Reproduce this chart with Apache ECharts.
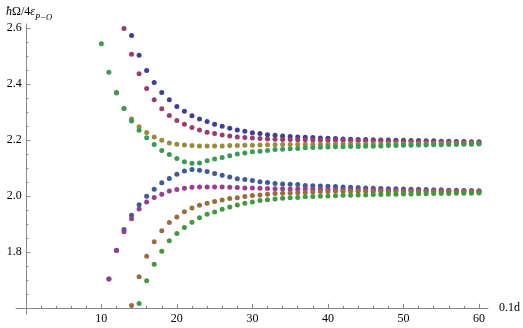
<!DOCTYPE html>
<html>
<head>
<meta charset="utf-8">
<script src="https://cdn.jsdelivr.net/npm/echarts@6/dist/echarts.min.js"></script>
<style>
  html, body { margin: 0; padding: 0; background: #fff; }
  #main { width: 523px; height: 328px; }
</style>
</head>
<body>
<div id="main"></div>
<script>
// x runs over integer steps of 0.1d, each branch starts where it enters the plot
const blueUpStart = 14;
const blueUp = [2.574, 2.504, 2.449, 2.406, 2.371, 2.345, 2.321, 2.304, 2.288, 2.276,
  2.267, 2.257, 2.250, 2.243, 2.237, 2.232, 2.227, 2.224, 2.220, 2.218,
  2.215, 2.214, 2.212, 2.211, 2.210, 2.208, 2.207, 2.206,
  2.205, 2.204, 2.203, 2.203, 2.202, 2.201, 2.201, 2.200, 2.200, 2.199,
  2.199, 2.198, 2.198, 2.197, 2.197, 2.196, 2.196, 2.195, 2.195];

const magentaUpStart = 13;
const magentaUp = [2.599, 2.507, 2.438, 2.385, 2.345, 2.313, 2.289, 2.271, 2.257, 2.246,
  2.237, 2.229, 2.224, 2.219, 2.215, 2.212, 2.210, 2.208, 2.206, 2.205,
  2.204, 2.203, 2.203, 2.202, 2.202, 2.201, 2.201, 2.200, 2.200,
  2.200, 2.200, 2.199, 2.199, 2.198, 2.198, 2.197, 2.197, 2.196, 2.196,
  2.195, 2.195, 2.194, 2.194, 2.194, 2.193, 2.193, 2.192, 2.192];

const oliveUpStart = 12;
const oliveUp = [2.372, 2.314, 2.276, 2.248, 2.228, 2.212, 2.200, 2.190, 2.186, 2.183,
  2.181, 2.180, 2.180, 2.180, 2.180, 2.181, 2.181, 2.182, 2.182, 2.183,
  2.184, 2.184, 2.185, 2.185, 2.185, 2.186, 2.186, 2.186, 2.186, 2.187,
  2.187, 2.187, 2.187, 2.187, 2.187, 2.187, 2.188, 2.188, 2.188, 2.188,
  2.188, 2.188, 2.188, 2.189, 2.189, 2.189, 2.189, 2.189, 2.189];

const greenUpStart = 10;
const greenUp = [2.545, 2.443, 2.369, 2.314, 2.269, 2.236, 2.209, 2.185, 2.164, 2.149,
  2.135, 2.123, 2.118, 2.119, 2.127, 2.133, 2.139, 2.145, 2.151, 2.155,
  2.159, 2.161, 2.164, 2.167, 2.168, 2.170, 2.171, 2.173, 2.174, 2.175, 2.176, 2.177,
  2.177, 2.178, 2.178, 2.179, 2.179, 2.180, 2.181, 2.181, 2.182, 2.182,
  2.183, 2.183, 2.184, 2.184, 2.185, 2.185, 2.186, 2.186, 2.187];

const blueLowStart = 11;
const blueLow = [1.705, 1.807, 1.881, 1.932, 1.970, 2.000, 2.025, 2.048, 2.064, 2.079,
  2.090, 2.096, 2.093, 2.089, 2.081, 2.075, 2.069, 2.063, 2.060, 2.056,
  2.052, 2.049, 2.046, 2.044, 2.043, 2.042, 2.039, 2.038, 2.037, 2.036, 2.035,
  2.033, 2.032, 2.031, 2.030, 2.029, 2.028, 2.027, 2.027, 2.026, 2.025,
  2.025, 2.024, 2.023, 2.023, 2.022, 2.022, 2.021, 2.021, 2.020];

const purpleLowStart = 11;
const purpleLow = [1.705, 1.806, 1.873, 1.920, 1.955, 1.980, 1.996, 2.007, 2.019, 2.024,
  2.029, 2.032, 2.033, 2.033, 2.033, 2.033, 2.032, 2.031, 2.030, 2.030,
  2.029, 2.028, 2.027, 2.027, 2.026, 2.026, 2.026, 2.025, 2.025, 2.025, 2.024,
  2.024, 2.024, 2.023, 2.023, 2.023, 2.022, 2.022, 2.022, 2.021, 2.021,
  2.021, 2.020, 2.020, 2.020, 2.019, 2.019, 2.019, 2.018, 2.018];

const brownLowStart = 14;
const brownLow = [1.610, 1.713, 1.786, 1.838, 1.877, 1.906, 1.926, 1.945, 1.958, 1.968,
  1.975, 1.981, 1.987, 1.992, 1.995, 1.999, 2.003, 2.005, 2.007, 2.010,
  2.011, 2.012, 2.013, 2.014, 2.015, 2.017, 2.017, 2.018,
  2.018, 2.018, 2.018, 2.018, 2.018, 2.018, 2.017, 2.017, 2.017, 2.017,
  2.017, 2.017, 2.017, 2.016, 2.016, 2.016, 2.016, 2.016, 2.016];

const greenLowStart = 15;
const greenLow = [1.617, 1.698, 1.757, 1.804, 1.841, 1.867, 1.889, 1.907, 1.923, 1.936,
  1.944, 1.954, 1.962, 1.969, 1.975, 1.980, 1.985, 1.988, 1.990, 1.993,
  1.995, 1.996, 1.998, 1.999, 2.000, 2.001, 2.002,
  2.004, 2.004, 2.005, 2.005, 2.006, 2.006, 2.007, 2.007, 2.008, 2.008,
  2.009, 2.009, 2.010, 2.010, 2.010, 2.011, 2.011, 2.011, 2.012];

const xTicks = { min: 0, max: 60, step: 10 };
const yTicks = { min: 1.6, max: 2.6, step: 0.2 };

// mathematica default palette
const colors = ['#3f3d99', '#993d71', '#998b3d', '#3d9956',
                '#3d5a99', '#993d90', '#996d3d', '#43993d'];

const serif = '"Liberation Serif", "DejaVu Serif", serif';
const axisGray = '#888';

function pts(start, vals) {
  return vals.map((v, i) => [start + i, v]);
}

const branches = [
  pts(blueUpStart, blueUp),
  pts(magentaUpStart, magentaUp),
  pts(oliveUpStart, oliveUp),
  pts(greenUpStart, greenUp),
  pts(blueLowStart, blueLow),
  pts(purpleLowStart, purpleLow),
  pts(brownLowStart, brownLow),
  pts(greenLowStart, greenLow)
];

let chart = echarts.init(document.getElementById('main'));

let option = {
  animation: false,
  title: {
    left: 1,
    top: 1,
    text: '{i|ħ}{n|Ω/4}{i|ε}{sub|P−O}',
    textStyle: {
      fontWeight: 'normal',
      rich: {
        i: { fontFamily: serif, fontStyle: 'italic', fontWeight: 'normal', fontSize: 12, color: '#000', lineHeight: 14, verticalAlign: 'top' },
        n: { fontFamily: serif, fontWeight: 'normal', fontSize: 12, color: '#000', lineHeight: 14, verticalAlign: 'top' },
        sub: { fontFamily: serif, fontStyle: 'italic', fontWeight: 'normal', fontSize: 8.5, color: '#000', lineHeight: 8, padding: [7, 0, 0, 0], verticalAlign: 'top' }
      }
    }
  },
  grid: [
    { left: 25.8, right: 43.7, top: 28.3, bottom: 19.7 },
    // slightly larger box, only used to draw the axis lines past the ticks
    { left: 16, right: 35, top: 24, bottom: 14 }
  ],
  xAxis: [
    {
      type: 'value',
      gridIndex: 0,
      min: xTicks.min,
      max: xTicks.max,
      interval: xTicks.step,
      name: '0.1d',
      nameLocation: 'end',
      nameGap: 20,
      nameTextStyle: { fontFamily: serif, fontSize: 12, color: '#000' },
      axisLine: { show: false },
      axisTick: { inside: true, length: 4.5, lineStyle: { color: axisGray } },
      minorTick: { show: true, splitNumber: 5, length: 2.5, lineStyle: { color: axisGray } },
      axisLabel: { fontFamily: serif, fontSize: 12, color: '#000', margin: 5, showMinLabel: false },
      splitLine: { show: false }
    },
    {
      type: 'value',
      gridIndex: 1,
      min: -9.8,
      max: 462.2,
      axisLine: { onZero: true, lineStyle: { color: axisGray, width: 1 } },
      axisTick: { show: false },
      axisLabel: { show: false },
      splitLine: { show: false }
    }
  ],
  yAxis: [
    {
      type: 'value',
      gridIndex: 0,
      min: yTicks.min,
      max: yTicks.max,
      interval: yTicks.step,
      axisLine: { show: false },
      axisTick: { inside: true, length: 4.5, lineStyle: { color: axisGray } },
      minorTick: { show: true, splitNumber: 4, length: 2.5, lineStyle: { color: axisGray } },
      axisLabel: {
        fontFamily: serif, fontSize: 12, color: '#000', margin: 4, showMinLabel: false,
        formatter: v => v.toFixed(1)
      },
      splitLine: { show: false }
    },
    {
      type: 'value',
      gridIndex: 1,
      min: -5.7,
      max: 284.3,
      axisLine: { onZero: true, lineStyle: { color: axisGray, width: 1 } },
      axisTick: { show: false },
      axisLabel: { show: false },
      splitLine: { show: false }
    }
  ],
  series: branches.map((d, k) => ({
    type: 'scatter',
    xAxisIndex: 0,
    yAxisIndex: 0,
    symbolSize: 5,
    data: d,
    itemStyle: { color: colors[k], opacity: 1 },
    emphasis: { disabled: true }
  }))
};

chart.setOption(option);
</script>
</body>
</html>
